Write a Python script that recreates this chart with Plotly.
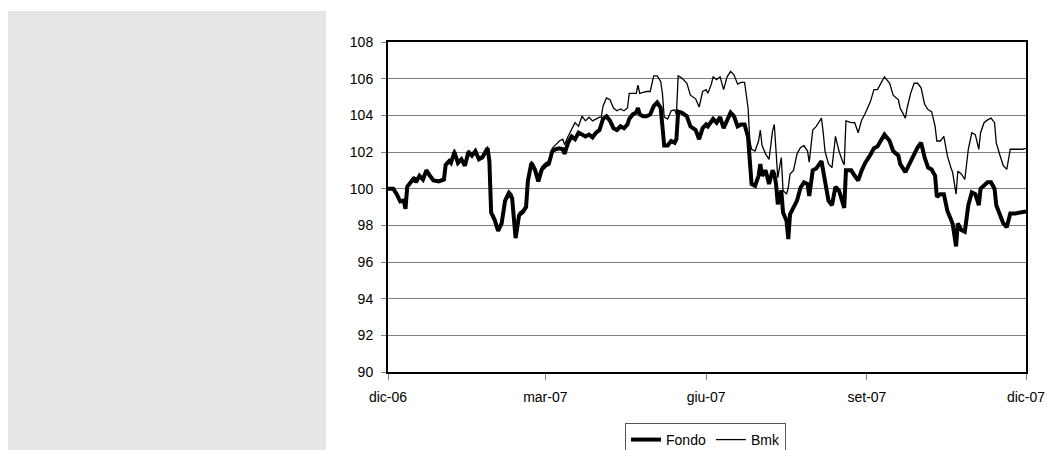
import plotly.graph_objects as go

# Daily index levels (base 100 = 1 Dec 2006)
dates = [
    "2006-12-01", "2006-12-04", "2006-12-06", "2006-12-08", "2006-12-10", "2006-12-11", "2006-12-12",
    "2006-12-14", "2006-12-16", "2006-12-17", "2006-12-19", "2006-12-21", "2006-12-23", "2006-12-25",
    "2006-12-27", "2006-12-30", "2007-01-02", "2007-01-03", "2007-01-05", "2007-01-06", "2007-01-08",
    "2007-01-10", "2007-01-12", "2007-01-14", "2007-01-16", "2007-01-18", "2007-01-20", "2007-01-22",
    "2007-01-24", "2007-01-26", "2007-01-27", "2007-01-28", "2007-01-29", "2007-01-31", "2007-02-02",
    "2007-02-04", "2007-02-06", "2007-02-08", "2007-02-10", "2007-02-12", "2007-02-14", "2007-02-16",
    "2007-02-18", "2007-02-19", "2007-02-21", "2007-02-23", "2007-02-25", "2007-02-27", "2007-03-01",
    "2007-03-03", "2007-03-05", "2007-03-07", "2007-03-09", "2007-03-11", "2007-03-12", "2007-03-14",
    "2007-03-16", "2007-03-18", "2007-03-20", "2007-03-22", "2007-03-24", "2007-03-26", "2007-03-28",
    "2007-03-30", "2007-04-01", "2007-04-02", "2007-04-03", "2007-04-05", "2007-04-07", "2007-04-09",
    "2007-04-11", "2007-04-13", "2007-04-15", "2007-04-17", "2007-04-18", "2007-04-20", "2007-04-22",
    "2007-04-23", "2007-04-24", "2007-04-26", "2007-04-28", "2007-04-30", "2007-05-02", "2007-05-04",
    "2007-05-06", "2007-05-07", "2007-05-08", "2007-05-10", "2007-05-12", "2007-05-14", "2007-05-15",
    "2007-05-16", "2007-05-18", "2007-05-21", "2007-05-23", "2007-05-26", "2007-05-28", "2007-05-30",
    "2007-06-01", "2007-06-02", "2007-06-04", "2007-06-05", "2007-06-07", "2007-06-09", "2007-06-11",
    "2007-06-13", "2007-06-15", "2007-06-17", "2007-06-19", "2007-06-21", "2007-06-23", "2007-06-25",
    "2007-06-26", "2007-06-27", "2007-06-29", "2007-07-01", "2007-07-02", "2007-07-03", "2007-07-05",
    "2007-07-07", "2007-07-09", "2007-07-10", "2007-07-11", "2007-07-12", "2007-07-14", "2007-07-15",
    "2007-07-17", "2007-07-18", "2007-07-19", "2007-07-21", "2007-07-23", "2007-07-25", "2007-07-27",
    "2007-07-29", "2007-07-30", "2007-08-01", "2007-08-03", "2007-08-06", "2007-08-07", "2007-08-08",
    "2007-08-10", "2007-08-12", "2007-08-14", "2007-08-16", "2007-08-18", "2007-08-19", "2007-08-20",
    "2007-08-23", "2007-08-25", "2007-08-27", "2007-08-29", "2007-08-31", "2007-09-03", "2007-09-05",
    "2007-09-07", "2007-09-09", "2007-09-11", "2007-09-14", "2007-09-16", "2007-09-19", "2007-09-20",
    "2007-09-23", "2007-09-24", "2007-09-26", "2007-09-28", "2007-09-30", "2007-10-02", "2007-10-04",
    "2007-10-06", "2007-10-08", "2007-10-10", "2007-10-11", "2007-10-13", "2007-10-15", "2007-10-17",
    "2007-10-19", "2007-10-20", "2007-10-22", "2007-10-23", "2007-10-25", "2007-10-27", "2007-10-29",
    "2007-10-31", "2007-11-02", "2007-11-04", "2007-11-05", "2007-11-07", "2007-11-09", "2007-11-11",
    "2007-11-13", "2007-11-14", "2007-11-16", "2007-11-18", "2007-11-20", "2007-11-22", "2007-11-25",
    "2007-11-29", "2007-12-01",
]

fondo = [
    100.0, 100.0, 99.7, 99.3, 99.35, 98.9, 100.1,
    100.35, 100.6, 100.35, 100.7, 100.5, 101.0, 100.7,
    100.45, 100.4, 100.5, 101.3, 101.5, 101.4, 102.0,
    101.4, 101.6, 101.25, 102.0, 101.8, 102.05, 101.6,
    101.7, 102.05, 102.2, 101.5, 98.7, 98.3, 97.7,
    98.1, 99.35, 99.7, 99.5, 97.3, 98.55, 98.7,
    99.0, 100.4, 101.4, 101.05, 100.4, 101.05, 101.25,
    101.35, 102.05, 102.15, 102.2, 102.15, 101.9, 102.5,
    102.85, 102.7, 103.05, 102.95, 102.85, 102.95, 102.8,
    103.05, 103.2, 103.5, 103.8, 103.95, 103.7, 103.3,
    103.2, 103.4, 103.3, 103.5, 103.8, 104.05, 104.15,
    104.4, 104.05, 103.95, 103.95, 104.05, 104.5, 104.7,
    104.4, 103.4, 102.35, 102.35, 102.6, 102.5, 102.7,
    104.2, 104.15, 103.95, 103.4, 103.2, 102.7, 103.3,
    103.5, 103.4, 103.7, 103.8, 103.6, 103.9, 103.3,
    103.8, 104.15, 103.95, 103.4, 103.5, 103.5, 102.8,
    101.5, 100.25, 100.15, 100.7, 101.35, 100.7, 101.0,
    100.25, 101.0, 100.8, 100.25, 99.15, 99.9, 98.7,
    98.25, 97.25, 98.6, 98.95, 99.35, 100.05, 100.35,
    100.25, 99.6, 101.0, 101.1, 101.5, 100.9, 100.25,
    99.35, 99.1, 100.1, 99.9, 99.3, 98.95, 101.0,
    101.0, 100.7, 100.45, 101.0, 101.4, 101.85, 102.2,
    102.3, 102.6, 102.95, 102.6, 102.05, 101.8, 101.35,
    100.9, 101.1, 101.5, 101.95, 102.25, 102.5, 101.7,
    101.15, 101.05, 100.7, 99.55, 99.7, 99.7, 98.8,
    98.25, 98.1, 96.85, 98.1, 97.75, 97.65, 99.1,
    99.8, 99.7, 99.1, 100.0, 100.2, 100.35, 100.35,
    100.0, 99.1, 98.65, 98.1, 97.9, 98.65, 98.65,
    98.7, 98.75,
]

bmk = [
    100.0, 100.05, 99.75, 99.35, 99.4, 99.0, 100.15,
    100.4, 100.65, 100.4, 100.75, 100.55, 101.0, 100.75,
    100.5, 100.45, 100.55, 101.4, 101.6, 101.5, 102.15,
    101.5, 101.7, 101.35, 102.1, 101.9, 102.15, 101.7,
    101.8, 102.15, 102.3, 101.6, 98.8, 98.45, 97.85,
    98.2, 99.5, 99.9, 99.7, 97.5, 98.7, 98.85,
    99.1, 100.5, 101.5, 101.2, 100.7, 101.2, 101.4,
    101.5, 102.2, 102.4, 102.6, 102.7, 102.4, 102.85,
    103.2, 103.6, 103.4, 103.95, 103.7, 103.9, 103.7,
    103.8, 103.9, 103.9, 104.5, 104.95, 104.85, 104.4,
    104.25, 104.35, 104.25, 104.4, 105.2, 105.2, 105.2,
    105.65, 105.2, 105.25, 105.3, 105.3, 106.15, 106.15,
    105.85, 105.2, 103.9, 103.8, 104.25, 104.3, 104.05,
    106.15, 106.05, 105.75, 105.1, 104.9, 104.45, 105.3,
    105.4, 105.2, 105.7, 106.1, 105.95, 106.1, 105.4,
    106.1, 106.4, 106.2, 105.7, 105.8, 105.8, 104.4,
    102.6, 102.15, 102.05, 102.6, 103.2, 102.35, 101.9,
    101.6, 103.15, 103.5, 101.7, 100.6, 101.7, 99.9,
    99.7, 100.05, 100.8, 101.0, 101.9, 102.25, 102.35,
    102.05, 101.45, 103.2, 103.4, 103.85, 103.05, 102.05,
    101.35, 101.15, 102.85, 102.05, 101.5, 101.3, 103.7,
    103.6, 103.6, 103.05, 103.75, 104.1, 104.75, 105.4,
    105.4, 105.75, 106.1, 105.75, 105.1, 104.85, 104.4,
    103.85, 104.4, 105.2, 105.75, 105.75, 105.5, 104.6,
    104.3, 104.2, 103.4, 102.6, 102.6, 102.85, 101.8,
    101.15, 100.9, 99.7, 100.95, 100.8, 100.5, 102.15,
    103.05, 102.95, 102.15, 103.05, 103.6, 103.75, 103.85,
    103.6, 102.5, 101.85, 101.25, 101.05, 102.15, 102.15,
    102.15, 102.2,
]

tick_dates = ["2006-12-01", "2007-03-01", "2007-06-01", "2007-09-01", "2007-12-01"]
tick_labels = ["dic-06", "mar-07", "giu-07", "set-07", "dic-07"]

FONT = "Liberation Sans, Arial, sans-serif"

fig = go.Figure()
fig.add_trace(go.Scatter(x=dates, y=fondo, name="Fondo", mode="lines",
                         line=dict(color="black", width=4)))
fig.add_trace(go.Scatter(x=dates, y=bmk, name="Bmk", mode="lines",
                         line=dict(color="black", width=1.3)))

fig.update_layout(
    width=1047, height=450,
    margin=dict(l=388, r=21, t=42, b=78, autoexpand=False),
    paper_bgcolor="white", plot_bgcolor="white",
    font=dict(family=FONT, size=14, color="black"),
    showlegend=True,
    legend=dict(orientation="h", x=0.3715, y=-0.1545, xanchor="left", yanchor="top",
                bordercolor="#555555", borderwidth=1, bgcolor="white",
                font=dict(family=FONT, size=14, color="black"),
                itemwidth=30, tracegroupgap=0),
    shapes=[dict(type="rect", xref="paper", yref="paper",
                 x0=-0.5956, x1=-0.0972, y0=-0.2364, y1=1.0939,
                 fillcolor="#e5e5e5", line=dict(width=0), layer="below")],
)

fig.update_xaxes(
    type="date", range=["2006-12-01", "2007-12-01"],
    tickmode="array", tickvals=tick_dates, ticktext=tick_labels,
    ticks="outside", ticklen=6, tickcolor="#808080", tickwidth=1,
    showgrid=False, zeroline=False,
    showline=True, linecolor="black", linewidth=2, mirror=True,
    ticklabelstandoff=5,
)
fig.update_yaxes(
    range=[90, 108], tick0=90, dtick=2,
    ticks="outside", ticklen=5, tickcolor="#808080", tickwidth=1,
    showgrid=True, gridcolor="#808080", gridwidth=1, zeroline=False,
    showline=True, linecolor="black", linewidth=2, mirror=True,
    ticklabelstandoff=5,
)

fig.write_html("out.html")
